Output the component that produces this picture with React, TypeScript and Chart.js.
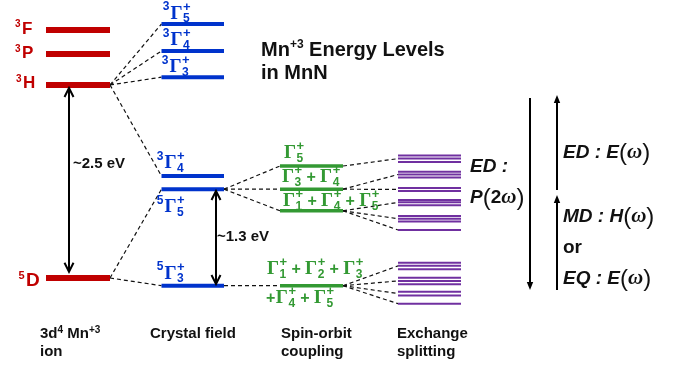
import { useEffect, useRef } from "react";
import { Chart, registerables } from "chart.js";

Chart.register(...registerables);

const W = 699;
const H = 366;
const Y_MIN = -1.14;
const Y_MAX = 3.6;

// ---------- data (energies in eV, schematic) ----------
const freeIonLetters = ["F", "P", "H", "D"];
const freeIonSpin = ["3", "3", "3", "5"];
const freeIonEnergy = [3.21, 2.9, 2.5, 0];

const crystalSpin = ["3", "3", "3", "3", "5", "5"];
const crystalIrrep = ["5", "4", "3", "4", "5", "3"];
const crystalEnergy = [3.29, 2.94, 2.6, 1.32, 1.15, -0.1];

const spinOrbitIrreps = [["5"], ["3", "4"], ["1", "4", "5"], ["1", "2", "3"]];
const spinOrbitIrrepsLine2 = [[], [], [], ["4", "5"]];
const spinOrbitEnergy = [1.45, 1.15, 0.87, -0.1];

const exchangeGroups = [
  [1.587, 1.546, 1.503],
  [1.377, 1.341, 1.302],
  [1.166, 1.127],
  [1.01, 0.981, 0.943],
  [0.803, 0.768, 0.732],
  [0.622],
  [0.198, 0.158, 0.114],
  [0.004, -0.039, -0.08],
  [-0.177, -0.227],
  [-0.333],
];

// connections: [from index, to index]
const freeToCrystal = [[2, 0], [2, 1], [2, 2], [2, 3], [3, 4], [3, 5]];
const crystalToSpinOrbit = [[4, 0], [4, 1], [4, 2], [5, 3]];
const spinOrbitToExchange = [[0, 0], [1, 1], [1, 2], [2, 3], [2, 4], [2, 5], [3, 6], [3, 7], [3, 8], [3, 9]];

const gapArrowLabels = ["~2.5 eV", "~1.3 eV"];
const gapArrowEnergy = [[2.46, 0.08], [1.127, -0.078]];
const transitionArrowEnergy = [[2.33, -0.156], [1.139, 2.37], [-0.156, 1.075]];

const columnTitles = [["3d", "4", " Mn", "+3", "ion"], ["Crystal field"], ["Spin-orbit", "coupling"], ["Exchange", "splitting"]];

// ---------- layout / style ----------
const COLS = [[46, 110], [161.5, 224], [280, 343], [398, 461]];
const GAP_ARROW_X = [69, 216];
const TRANS_ARROW_X = [530, 557, 557];
const RED = "#c00000";
const BLUE = "#0033cc";
const GREEN = "#339933";
const PURPLE = "#7030a0";
const SANS = '"Liberation Sans", Arial, sans-serif';
const SERIF = '"Liberation Serif", "Times New Roman", serif';

const seg = (x1: number, y1: number, x2: number, y2: number, color: string, w: number, dash?: number[], order = 0) => ({
  type: "line" as const,
  data: [{ x: x1, y: y1 }, { x: x2, y: y2 }],
  borderColor: color,
  backgroundColor: color,
  borderWidth: w,
  borderDash: dash || [],
  pointRadius: 0,
  fill: false,
  tension: 0,
  order,
});

const mean = (a: number[]) => a.reduce((s, v) => s + v, 0) / a.length;

function buildDatasets() {
  const ds: any[] = [];
  freeIonEnergy.forEach((e) => ds.push(seg(COLS[0][0], e, COLS[0][1], e, RED, 6)));
  crystalEnergy.forEach((e) => ds.push(seg(COLS[1][0], e, COLS[1][1], e, BLUE, 4)));
  spinOrbitEnergy.forEach((e) => ds.push(seg(COLS[2][0], e, COLS[2][1], e, GREEN, 3.5)));
  exchangeGroups.forEach((g) => g.forEach((e) => ds.push(seg(COLS[3][0], e, COLS[3][1], e, PURPLE, 2))));
  const dash = [4, 3];
  freeToCrystal.forEach(([a, b]) => ds.push(seg(COLS[0][1], freeIonEnergy[a], COLS[1][0], crystalEnergy[b], "#111", 1.2, dash, 1)));
  crystalToSpinOrbit.forEach(([a, b]) => ds.push(seg(COLS[1][1], crystalEnergy[a], COLS[2][0], spinOrbitEnergy[b], "#111", 1.2, dash, 1)));
  spinOrbitToExchange.forEach(([a, b]) => ds.push(seg(COLS[2][1], spinOrbitEnergy[a], COLS[3][0], mean(exchangeGroups[b]), "#111", 1.2, dash, 1)));
  gapArrowEnergy.forEach(([a, b], i) => ds.push(seg(GAP_ARROW_X[i], a, GAP_ARROW_X[i], b, "#000", 2, undefined, 1)));
  transitionArrowEnergy.forEach(([a, b], i) => {
    const dir = b > a ? 1 : -1;
    ds.push(seg(TRANS_ARROW_X[i], a, TRANS_ARROW_X[i], b - dir * 0.06, "#000", 2, undefined, 1));
  });
  return ds;
}

type Tok = { t: string; f: string; dy?: number };
function drawToks(ctx: CanvasRenderingContext2D, x: number, y: number, toks: Tok[], color: string) {
  let cx = x;
  ctx.fillStyle = color;
  for (const k of toks) {
    ctx.font = k.f;
    ctx.fillText(k.t, cx, y + (k.dy || 0));
    cx += ctx.measureText(k.t).width;
  }
  return cx;
}

type GOpt = { size: number; subSize: number; supSize: number; subDy: number; supDy: number; color: string; opSize: number; gap: number };
function drawGamma(ctx: CanvasRenderingContext2D, x: number, base: number, sub: string, o: GOpt) {
  ctx.fillStyle = o.color;
  ctx.font = `bold ${o.size}px ${SERIF}`;
  ctx.fillText("Γ", x, base);
  const sx = x + ctx.measureText("Γ").width + 0.5;
  ctx.font = `bold ${o.subSize}px ${SANS}`;
  ctx.fillText(sub, sx, base + o.subDy);
  const sw = ctx.measureText(sub).width;
  ctx.font = `bold ${o.supSize}px ${SANS}`;
  ctx.fillText("+", sx, base + o.supDy);
  const pw = ctx.measureText("+").width;
  return sx + Math.max(sw, pw);
}
function drawSum(ctx: CanvasRenderingContext2D, x: number, base: number, subs: string[], o: GOpt, leadingPlus: boolean) {
  let cx = x;
  subs.forEach((s, i) => {
    if (i > 0 || leadingPlus) {
      if (i > 0) cx += o.gap;
      ctx.fillStyle = o.color;
      ctx.font = `bold ${o.opSize}px ${SANS}`;
      ctx.fillText("+", cx, base);
      cx += ctx.measureText("+").width + (i > 0 ? o.gap : 0.5);
    }
    cx = drawGamma(ctx, cx, base, s, o);
  });
}

const freeLabelLayout = [
  { x: 22, dy: 3.5, size: 17 },
  { x: 22, dy: 4, size: 17 },
  { x: 23, dy: 3.5, size: 17 },
  { x: 26, dy: 8, size: 19 },
];
const crystalLabelLayout = [
  { x: 170.5, dy: -5 },
  { x: 170.5, dy: -5.5 },
  { x: 169.5, dy: -5 },
  { x: 164.5, dy: -8 },
  { x: 164.5, dy: 23 },
  { x: 164.5, dy: -7 },
];
const soLabelLayout = [
  { x: 284, dy: -8 },
  { x: 282, dy: -7 },
  { x: 283, dy: -5 },
  { x: 267, dy: -12, x2: 266, dy2: 17 },
];

const overlay = {
  id: "overlay",
  afterDatasetsDraw(chart: any) {
    const ctx: CanvasRenderingContext2D = chart.ctx;
    const xs = chart.scales.x;
    const ys = chart.scales.y;
    const px = (v: number) => xs.getPixelForValue(v);
    const py = (v: number) => ys.getPixelForValue(v);
    ctx.save();
    ctx.textAlign = "left";
    ctx.textBaseline = "alphabetic";

    // open arrow heads for gap arrows
    const openHead = (x: number, y: number, up: boolean) => {
      const d = up ? 1 : -1;
      ctx.beginPath();
      ctx.moveTo(x - 4.5, y + d * 9);
      ctx.lineTo(x, y);
      ctx.lineTo(x + 4.5, y + d * 9);
      ctx.strokeStyle = "#000";
      ctx.lineWidth = 2;
      ctx.stroke();
    };
    gapArrowEnergy.forEach(([a, b], i) => {
      const x = px(GAP_ARROW_X[i]);
      openHead(x, py(a), true);
      openHead(x, py(b), false);
    });
    // filled heads for transition arrows
    transitionArrowEnergy.forEach(([a, b], i) => {
      const x = px(TRANS_ARROW_X[i]);
      const y = py(b);
      const up = b > a;
      const d = up ? 1 : -1;
      ctx.beginPath();
      ctx.moveTo(x, y);
      ctx.lineTo(x - 3.2, y + d * 8);
      ctx.lineTo(x + 3.2, y + d * 8);
      ctx.closePath();
      ctx.fillStyle = "#000";
      ctx.fill();
    });

    // free-ion labels
    freeIonLetters.forEach((L, i) => {
      const lay = freeLabelLayout[i];
      const base = py(freeIonEnergy[i]) + lay.dy;
      ctx.fillStyle = RED;
      ctx.font = `bold ${lay.size}px ${SANS}`;
      ctx.fillText(L, lay.x, base);
      ctx.font = `bold ${Math.round(lay.size * 0.6)}px ${SANS}`;
      const w = ctx.measureText(freeIonSpin[i]).width;
      ctx.fillText(freeIonSpin[i], lay.x - w - 1.5, base - lay.size * 0.38);
    });

    // crystal field labels
    const blueOpt: GOpt = { size: 19, subSize: 12, supSize: 13, subDy: 3.5, supDy: -8, color: BLUE, opSize: 16, gap: 5 };
    crystalIrrep.forEach((ir, i) => {
      const lay = crystalLabelLayout[i];
      const base = py(crystalEnergy[i]) + lay.dy;
      drawGamma(ctx, lay.x, base, ir, blueOpt);
      ctx.font = `bold 12px ${SANS}`;
      const w = ctx.measureText(crystalSpin[i]).width;
      ctx.fillStyle = BLUE;
      ctx.fillText(crystalSpin[i], lay.x - w - 1, base - 8.5);
    });

    // spin-orbit labels
    const greenOpt: GOpt = { size: 19, subSize: 12, supSize: 13, subDy: 4, supDy: -8, color: GREEN, opSize: 16, gap: 4.3 };
    spinOrbitIrreps.forEach((subs, i) => {
      const lay: any = soLabelLayout[i];
      const y0 = py(spinOrbitEnergy[i]);
      drawSum(ctx, lay.x, y0 + lay.dy, subs, greenOpt, false);
      if (spinOrbitIrrepsLine2[i].length) drawSum(ctx, lay.x2, y0 + lay.dy2, spinOrbitIrrepsLine2[i], greenOpt, true);
    });

    // gap arrow labels
    ctx.fillStyle = "#111";
    ctx.font = `bold 15px ${SANS}`;
    ctx.fillText(gapArrowLabels[0], px(GAP_ARROW_X[0]) + 4, py((gapArrowEnergy[0][0] + gapArrowEnergy[0][1]) / 2) - 12);
    ctx.fillText(gapArrowLabels[1], px(GAP_ARROW_X[1]) + 1, py((gapArrowEnergy[1][0] + gapArrowEnergy[1][1]) / 2) + 4);

    // title
    const B20 = `bold 20px ${SANS}`;
    const B12 = `bold 12px ${SANS}`;
    drawToks(ctx, 261, 55.5, [{ t: "Mn", f: B20 }, { t: "+3", f: B12, dy: -8 }, { t: " Energy Levels", f: B20 }], "#111");
    drawToks(ctx, 261, 79, [{ t: "in MnN", f: B20 }], "#111");

    // column titles
    const B15 = `bold 15px ${SANS}`;
    const B10 = `bold 10px ${SANS}`;
    const ct = columnTitles;
    drawToks(ctx, 40, 338, [{ t: ct[0][0], f: B15 }, { t: ct[0][1], f: B10, dy: -5 }, { t: ct[0][2], f: B15 }, { t: ct[0][3], f: B10, dy: -5 }], "#111");
    drawToks(ctx, 40, 356, [{ t: ct[0][4], f: B15 }], "#111");
    drawToks(ctx, 150, 338, [{ t: ct[1][0], f: B15 }], "#111");
    drawToks(ctx, 281, 338, [{ t: ct[2][0], f: B15 }], "#111");
    drawToks(ctx, 281, 356, [{ t: ct[2][1], f: B15 }], "#111");
    drawToks(ctx, 397, 338, [{ t: ct[3][0], f: B15 }], "#111");
    drawToks(ctx, 397, 356, [{ t: ct[3][1], f: B15 }], "#111");

    // transition formulas
    const IB = `italic bold 19px ${SANS}`;
    const BB = `bold 19px ${SANS}`;
    const PAR = `24px ${SANS}`;
    const OM = `italic bold 21px ${SERIF}`;
    const field = (letter: string): Tok[] => [
      { t: letter, f: IB },
      { t: "(", f: PAR, dy: 2 },
      { t: "ω", f: OM },
      { t: ")", f: PAR, dy: 2 },
    ];
    drawToks(ctx, 470, 172, [{ t: "ED :", f: IB }], "#111");
    drawToks(ctx, 470, 203, [{ t: "P", f: IB }, { t: "(", f: PAR, dy: 2 }, { t: "2", f: BB }, { t: "ω", f: OM }, { t: ")", f: PAR, dy: 2 }], "#111");
    drawToks(ctx, 563, 158, [{ t: "ED : ", f: IB }, ...field("E")], "#111");
    drawToks(ctx, 563, 222, [{ t: "MD : ", f: IB }, ...field("H")], "#111");
    drawToks(ctx, 563, 253, [{ t: "or", f: BB }], "#111");
    drawToks(ctx, 563, 284, [{ t: "EQ : ", f: IB }, ...field("E")], "#111");

    ctx.restore();
  },
};

export default function App() {
  const ref = useRef<HTMLCanvasElement>(null);
  useEffect(() => {
    document.body.style.margin = "0";
    const canvas = ref.current;
    if (!canvas) return;
    const chart = new Chart(canvas, {
      type: "line",
      data: { datasets: buildDatasets() },
      options: {
        responsive: false,
        maintainAspectRatio: false,
        animation: false,
        events: [],
        layout: { padding: 0 },
        plugins: { legend: { display: false }, tooltip: { enabled: false } },
        scales: {
          x: { type: "linear", min: 0, max: W, display: false },
          y: { type: "linear", min: Y_MIN, max: Y_MAX, display: false },
        },
      } as any,
      plugins: [overlay as any],
    });
    return () => chart.destroy();
  }, []);
  return <canvas ref={ref} width={W} height={H} style={{ display: "block", width: W, height: H }} />;
}
